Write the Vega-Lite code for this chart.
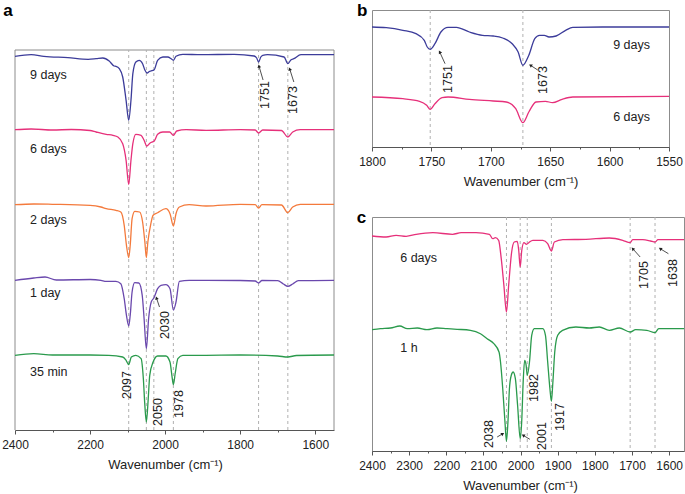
{
  "$schema": "https://vega.github.io/schema/vega-lite/v6.json",
  "background": "white",
  "padding": {"left": 1, "top": 1, "right": 0, "bottom": 0},
  "config": {
    "font": "Liberation Sans",
    "view": {"stroke": "#8c8c8c", "strokeWidth": 1},
    "axis": {"domainColor": "#555", "tickColor": "#555", "labelColor": "#222", "titleColor": "#222", "labelFontSize": 12, "titleFontSize": 13, "titleFontWeight": "normal", "labelFont": "Liberation Sans", "titleFont": "Liberation Sans", "labelPadding": 5, "titlePadding": 8, "grid": false, "labelFlush": false, "format": "d"},
    "title": {"font": "Liberation Sans", "fontSize": 17, "fontWeight": "bold", "color": "#000"}
  },
  "datasets": {
    "aFrame": [{"w": 2400, "w2": 2400, "v": -1, "v2": 379}, {"w": 1550, "w2": 1550, "v": -1, "v2": 379}, {"w": 2400, "w2": 1550, "v": 379, "v2": 379}],
    "aDash": [{"w": 2097}, {"w": 2050}, {"w": 2030}, {"w": 1978}, {"w": 1751}, {"w": 1673}],
    "aCurves": [
      {"s": "9 days", "w": 2400, "v": 372.7}, {"s": "9 days", "w": 2357, "v": 374.3}, {"s": "9 days", "w": 2323, "v": 372.7}, {"s": "9 days", "w": 2259, "v": 371.3}, {"s": "9 days", "w": 2205, "v": 369.7}, {"s": "9 days", "w": 2184, "v": 370.3}, {"s": "9 days", "w": 2166, "v": 371}, {"s": "9 days", "w": 2149, "v": 368}, {"s": "9 days", "w": 2136, "v": 363}, {"s": "9 days", "w": 2131, "v": 362.7}, {"s": "9 days", "w": 2122, "v": 360.3}, {"s": "9 days", "w": 2113, "v": 352}, {"s": "9 days", "w": 2104, "v": 328.7}, {"s": "9 days", "w": 2097, "v": 308.7}, {"s": "9 days", "w": 2091, "v": 328.7}, {"s": "9 days", "w": 2086, "v": 355.3}, {"s": "9 days", "w": 2078, "v": 367}, {"s": "9 days", "w": 2069, "v": 368.7}, {"s": "9 days", "w": 2060, "v": 365.3}, {"s": "9 days", "w": 2054, "v": 359}, {"s": "9 days", "w": 2048, "v": 356}, {"s": "9 days", "w": 2042, "v": 357.5}, {"s": "9 days", "w": 2038, "v": 358}, {"s": "9 days", "w": 2029, "v": 359.3}, {"s": "9 days", "w": 2020, "v": 368.7}, {"s": "9 days", "w": 2006, "v": 372}, {"s": "9 days", "w": 1993, "v": 372}, {"s": "9 days", "w": 1984, "v": 370.3}, {"s": "9 days", "w": 1978, "v": 368.7}, {"s": "9 days", "w": 1971, "v": 372.7}, {"s": "9 days", "w": 1953, "v": 374.7}, {"s": "9 days", "w": 1904, "v": 374.3}, {"s": "9 days", "w": 1816, "v": 374.7}, {"s": "9 days", "w": 1763, "v": 373}, {"s": "9 days", "w": 1756, "v": 371}, {"s": "9 days", "w": 1751, "v": 367}, {"s": "9 days", "w": 1745, "v": 372}, {"s": "9 days", "w": 1740, "v": 373.7}, {"s": "9 days", "w": 1727, "v": 374.3}, {"s": "9 days", "w": 1683, "v": 372}, {"s": "9 days", "w": 1673, "v": 365.3}, {"s": "9 days", "w": 1665, "v": 369}, {"s": "9 days", "w": 1657, "v": 370.3}, {"s": "9 days", "w": 1638, "v": 374.3}, {"s": "9 days", "w": 1550, "v": 374.3},
      {"s": "6 days", "w": 2400, "v": 299.3}, {"s": "6 days", "w": 2357, "v": 300}, {"s": "6 days", "w": 2300, "v": 299}, {"s": "6 days", "w": 2250, "v": 299.5}, {"s": "6 days", "w": 2200, "v": 298.5}, {"s": "6 days", "w": 2184, "v": 297}, {"s": "6 days", "w": 2157, "v": 294.7}, {"s": "6 days", "w": 2139, "v": 293.7}, {"s": "6 days", "w": 2126, "v": 292}, {"s": "6 days", "w": 2113, "v": 285.3}, {"s": "6 days", "w": 2104, "v": 268.7}, {"s": "6 days", "w": 2097, "v": 244.5}, {"s": "6 days", "w": 2091, "v": 268.7}, {"s": "6 days", "w": 2086, "v": 285.3}, {"s": "6 days", "w": 2078, "v": 294.7}, {"s": "6 days", "w": 2064, "v": 293.7}, {"s": "6 days", "w": 2056, "v": 288.7}, {"s": "6 days", "w": 2049, "v": 283}, {"s": "6 days", "w": 2040, "v": 286}, {"s": "6 days", "w": 2029, "v": 288}, {"s": "6 days", "w": 2020, "v": 294.7}, {"s": "6 days", "w": 2006, "v": 297}, {"s": "6 days", "w": 1988, "v": 297}, {"s": "6 days", "w": 1978, "v": 293.7}, {"s": "6 days", "w": 1969, "v": 298}, {"s": "6 days", "w": 1944, "v": 299.3}, {"s": "6 days", "w": 1891, "v": 298.7}, {"s": "6 days", "w": 1800, "v": 299.3}, {"s": "6 days", "w": 1760, "v": 299}, {"s": "6 days", "w": 1751, "v": 296}, {"s": "6 days", "w": 1740, "v": 299}, {"s": "6 days", "w": 1690, "v": 298.5}, {"s": "6 days", "w": 1673, "v": 292}, {"s": "6 days", "w": 1660, "v": 297}, {"s": "6 days", "w": 1640, "v": 299.3}, {"s": "6 days", "w": 1550, "v": 299.3},
      {"s": "2 days", "w": 2400, "v": 224.3}, {"s": "2 days", "w": 2350, "v": 225}, {"s": "2 days", "w": 2300, "v": 224.7}, {"s": "2 days", "w": 2200, "v": 223.7}, {"s": "2 days", "w": 2171, "v": 222}, {"s": "2 days", "w": 2157, "v": 220.3}, {"s": "2 days", "w": 2131, "v": 218.7}, {"s": "2 days", "w": 2118, "v": 217}, {"s": "2 days", "w": 2109, "v": 203.7}, {"s": "2 days", "w": 2103, "v": 183.7}, {"s": "2 days", "w": 2097, "v": 171.5}, {"s": "2 days", "w": 2093, "v": 183.7}, {"s": "2 days", "w": 2088, "v": 210.3}, {"s": "2 days", "w": 2081, "v": 217.7}, {"s": "2 days", "w": 2068, "v": 217}, {"s": "2 days", "w": 2060, "v": 207}, {"s": "2 days", "w": 2054, "v": 187}, {"s": "2 days", "w": 2050, "v": 171.5}, {"s": "2 days", "w": 2046, "v": 187}, {"s": "2 days", "w": 2038, "v": 205.3}, {"s": "2 days", "w": 2032, "v": 213.7}, {"s": "2 days", "w": 2020, "v": 216.3}, {"s": "2 days", "w": 1998, "v": 220.3}, {"s": "2 days", "w": 1987, "v": 215.3}, {"s": "2 days", "w": 1978, "v": 203}, {"s": "2 days", "w": 1971, "v": 215.3}, {"s": "2 days", "w": 1962, "v": 222}, {"s": "2 days", "w": 1936, "v": 224.3}, {"s": "2 days", "w": 1891, "v": 223}, {"s": "2 days", "w": 1800, "v": 224.7}, {"s": "2 days", "w": 1760, "v": 224.3}, {"s": "2 days", "w": 1751, "v": 221}, {"s": "2 days", "w": 1742, "v": 224.3}, {"s": "2 days", "w": 1690, "v": 224}, {"s": "2 days", "w": 1673, "v": 216.3}, {"s": "2 days", "w": 1660, "v": 222}, {"s": "2 days", "w": 1640, "v": 224.7}, {"s": "2 days", "w": 1550, "v": 224.7},
      {"s": "1 day", "w": 2400, "v": 148.7}, {"s": "1 day", "w": 2350, "v": 151}, {"s": "1 day", "w": 2320, "v": 152}, {"s": "1 day", "w": 2290, "v": 149}, {"s": "1 day", "w": 2200, "v": 149.5}, {"s": "1 day", "w": 2171, "v": 148.7}, {"s": "1 day", "w": 2157, "v": 147.7}, {"s": "1 day", "w": 2131, "v": 147.7}, {"s": "1 day", "w": 2118, "v": 145.3}, {"s": "1 day", "w": 2109, "v": 130.3}, {"s": "1 day", "w": 2103, "v": 113.7}, {"s": "1 day", "w": 2097, "v": 103}, {"s": "1 day", "w": 2093, "v": 113.7}, {"s": "1 day", "w": 2088, "v": 137}, {"s": "1 day", "w": 2081, "v": 146.3}, {"s": "1 day", "w": 2070, "v": 146}, {"s": "1 day", "w": 2061, "v": 133.7}, {"s": "1 day", "w": 2056, "v": 110.3}, {"s": "1 day", "w": 2050, "v": 80.3}, {"s": "1 day", "w": 2044, "v": 110.3}, {"s": "1 day", "w": 2037, "v": 127}, {"s": "1 day", "w": 2030, "v": 131}, {"s": "1 day", "w": 2020, "v": 140.3}, {"s": "1 day", "w": 2011, "v": 143.7}, {"s": "1 day", "w": 1998, "v": 144.3}, {"s": "1 day", "w": 1987, "v": 140.3}, {"s": "1 day", "w": 1978, "v": 119}, {"s": "1 day", "w": 1971, "v": 127}, {"s": "1 day", "w": 1962, "v": 147.7}, {"s": "1 day", "w": 1936, "v": 148.7}, {"s": "1 day", "w": 1891, "v": 148.7}, {"s": "1 day", "w": 1800, "v": 148.5}, {"s": "1 day", "w": 1760, "v": 148}, {"s": "1 day", "w": 1751, "v": 146}, {"s": "1 day", "w": 1742, "v": 148.5}, {"s": "1 day", "w": 1700, "v": 148.3}, {"s": "1 day", "w": 1685, "v": 145}, {"s": "1 day", "w": 1673, "v": 142.7}, {"s": "1 day", "w": 1660, "v": 145}, {"s": "1 day", "w": 1645, "v": 148.3}, {"s": "1 day", "w": 1550, "v": 148.7},
      {"s": "35 min", "w": 2400, "v": 73.7}, {"s": "35 min", "w": 2350, "v": 75.3}, {"s": "35 min", "w": 2300, "v": 74}, {"s": "35 min", "w": 2200, "v": 74}, {"s": "35 min", "w": 2150, "v": 73.7}, {"s": "35 min", "w": 2113, "v": 72}, {"s": "35 min", "w": 2104, "v": 68.7}, {"s": "35 min", "w": 2097, "v": 64.5}, {"s": "35 min", "w": 2090, "v": 72}, {"s": "35 min", "w": 2078, "v": 73.7}, {"s": "35 min", "w": 2064, "v": 70.3}, {"s": "35 min", "w": 2058, "v": 50.3}, {"s": "35 min", "w": 2054, "v": 23.7}, {"s": "35 min", "w": 2050, "v": 7}, {"s": "35 min", "w": 2045, "v": 30.3}, {"s": "35 min", "w": 2041, "v": 53.7}, {"s": "35 min", "w": 2032, "v": 67}, {"s": "35 min", "w": 2020, "v": 73}, {"s": "35 min", "w": 1998, "v": 73}, {"s": "35 min", "w": 1987, "v": 67}, {"s": "35 min", "w": 1982, "v": 53.7}, {"s": "35 min", "w": 1978, "v": 44.3}, {"s": "35 min", "w": 1973, "v": 56}, {"s": "35 min", "w": 1966, "v": 70.3}, {"s": "35 min", "w": 1953, "v": 73.7}, {"s": "35 min", "w": 1891, "v": 73.7}, {"s": "35 min", "w": 1800, "v": 74}, {"s": "35 min", "w": 1700, "v": 73}, {"s": "35 min", "w": 1673, "v": 72}, {"s": "35 min", "w": 1650, "v": 73.5}, {"s": "35 min", "w": 1550, "v": 74}
    ],
    "aNames": [{"t": "9 days", "w": 2360, "v": 354}, {"t": "6 days", "w": 2360, "v": 280}, {"t": "2 days", "w": 2360, "v": 209}, {"t": "1 day", "w": 2360, "v": 136}, {"t": "35 min", "w": 2360, "v": 57}],
    "aNums": [{"t": "1751", "w": 1734, "v": 334}, {"t": "1673", "w": 1658, "v": 329}, {"t": "2030", "w": 2000, "v": 104}, {"t": "2097", "w": 2102, "v": 44}, {"t": "2050", "w": 2019, "v": 17}, {"t": "1978", "w": 1964, "v": 25}],
    "aArrows": [{"w": 1739, "v": 349, "w2": 1750, "v2": 363, "ang": -13}, {"w": 1657, "v": 347, "w2": 1668, "v2": 360, "ang": -17}, {"w": 2015, "v": 122, "w2": 2023, "v2": 131, "ang": -18}],
    "bDash": [{"w": 1751}, {"w": 1673}],
    "bCurves": [
      {"s": "9 days", "w": 1800, "v": 120}, {"s": "9 days", "w": 1788, "v": 119.3}, {"s": "9 days", "w": 1774, "v": 116.7}, {"s": "9 days", "w": 1763, "v": 113.3}, {"s": "9 days", "w": 1756, "v": 106.7}, {"s": "9 days", "w": 1753.5, "v": 100}, {"s": "9 days", "w": 1751, "v": 97.7}, {"s": "9 days", "w": 1747, "v": 103.3}, {"s": "9 days", "w": 1742, "v": 115}, {"s": "9 days", "w": 1736, "v": 119.7}, {"s": "9 days", "w": 1729, "v": 119.7}, {"s": "9 days", "w": 1718, "v": 115}, {"s": "9 days", "w": 1707, "v": 111.7}, {"s": "9 days", "w": 1698, "v": 111}, {"s": "9 days", "w": 1690, "v": 109}, {"s": "9 days", "w": 1682, "v": 103.3}, {"s": "9 days", "w": 1677, "v": 95}, {"s": "9 days", "w": 1673, "v": 81.7}, {"s": "9 days", "w": 1668, "v": 91.7}, {"s": "9 days", "w": 1663, "v": 108.3}, {"s": "9 days", "w": 1659, "v": 111.7}, {"s": "9 days", "w": 1655, "v": 111.7}, {"s": "9 days", "w": 1651, "v": 110}, {"s": "9 days", "w": 1645, "v": 111}, {"s": "9 days", "w": 1637, "v": 116.7}, {"s": "9 days", "w": 1631, "v": 119.7}, {"s": "9 days", "w": 1606, "v": 120}, {"s": "9 days", "w": 1550, "v": 120},
      {"s": "6 days", "w": 1800, "v": 50}, {"s": "6 days", "w": 1774, "v": 48.3}, {"s": "6 days", "w": 1760, "v": 45.7}, {"s": "6 days", "w": 1754, "v": 41.7}, {"s": "6 days", "w": 1751, "v": 37.7}, {"s": "6 days", "w": 1747, "v": 43.3}, {"s": "6 days", "w": 1741, "v": 49.3}, {"s": "6 days", "w": 1736, "v": 50}, {"s": "6 days", "w": 1718, "v": 47.7}, {"s": "6 days", "w": 1698, "v": 46}, {"s": "6 days", "w": 1687, "v": 45}, {"s": "6 days", "w": 1679, "v": 38.3}, {"s": "6 days", "w": 1673, "v": 24.3}, {"s": "6 days", "w": 1668, "v": 35}, {"s": "6 days", "w": 1662, "v": 45}, {"s": "6 days", "w": 1654, "v": 45.7}, {"s": "6 days", "w": 1648, "v": 44.3}, {"s": "6 days", "w": 1640, "v": 47.7}, {"s": "6 days", "w": 1631, "v": 50}, {"s": "6 days", "w": 1550, "v": 50.7}
    ],
    "bNames": [{"t": "9 days", "w": 1597, "v": 102}, {"t": "6 days", "w": 1597, "v": 30}],
    "bNums": [{"t": "1751", "w": 1736, "v": 68}, {"t": "1673", "w": 1656, "v": 67}],
    "bArrows": [{"w": 1738.5, "v": 83.3, "w2": 1743, "v2": 95, "ang": -30}, {"w": 1660.5, "v": 77, "w2": 1666.6, "v2": 81.7, "ang": -57}],
    "cDash": [{"w": 2038}, {"w": 2001}, {"w": 1982}, {"w": 1917}, {"w": 1705}, {"w": 1638}],
    "cCurves": [
      {"s": "6 days", "w": 2400, "v": 214}, {"s": "6 days", "w": 2362, "v": 213}, {"s": "6 days", "w": 2335, "v": 214.7}, {"s": "6 days", "w": 2308, "v": 213.7}, {"s": "6 days", "w": 2281, "v": 215.7}, {"s": "6 days", "w": 2236, "v": 217.3}, {"s": "6 days", "w": 2183, "v": 215.7}, {"s": "6 days", "w": 2160, "v": 217.3}, {"s": "6 days", "w": 2120, "v": 217.3}, {"s": "6 days", "w": 2084, "v": 215.7}, {"s": "6 days", "w": 2075, "v": 211.3}, {"s": "6 days", "w": 2068, "v": 212.3}, {"s": "6 days", "w": 2059, "v": 209.7}, {"s": "6 days", "w": 2052, "v": 191.3}, {"s": "6 days", "w": 2045, "v": 165}, {"s": "6 days", "w": 2038, "v": 138}, {"s": "6 days", "w": 2032, "v": 165}, {"s": "6 days", "w": 2024, "v": 198}, {"s": "6 days", "w": 2017, "v": 208}, {"s": "6 days", "w": 2009, "v": 208.7}, {"s": "6 days", "w": 2005, "v": 199.7}, {"s": "6 days", "w": 2001, "v": 183}, {"s": "6 days", "w": 1997, "v": 199}, {"s": "6 days", "w": 1991, "v": 207.3}, {"s": "6 days", "w": 1984, "v": 205.7}, {"s": "6 days", "w": 1978, "v": 207.3}, {"s": "6 days", "w": 1967, "v": 209.7}, {"s": "6 days", "w": 1940, "v": 209.7}, {"s": "6 days", "w": 1927, "v": 206.3}, {"s": "6 days", "w": 1917, "v": 199}, {"s": "6 days", "w": 1909, "v": 208}, {"s": "6 days", "w": 1886, "v": 210.3}, {"s": "6 days", "w": 1824, "v": 210.7}, {"s": "6 days", "w": 1761, "v": 212}, {"s": "6 days", "w": 1725, "v": 209.7}, {"s": "6 days", "w": 1705, "v": 207.3}, {"s": "6 days", "w": 1698, "v": 210.3}, {"s": "6 days", "w": 1671, "v": 210.3}, {"s": "6 days", "w": 1650, "v": 209}, {"s": "6 days", "w": 1638, "v": 208}, {"s": "6 days", "w": 1630, "v": 210.3}, {"s": "6 days", "w": 1560, "v": 210.3},
      {"s": "1 h", "w": 2400, "v": 120.3}, {"s": "1 h", "w": 2377, "v": 121.3}, {"s": "1 h", "w": 2350, "v": 122}, {"s": "1 h", "w": 2325, "v": 124}, {"s": "1 h", "w": 2305, "v": 121.3}, {"s": "1 h", "w": 2278, "v": 122}, {"s": "1 h", "w": 2252, "v": 120.3}, {"s": "1 h", "w": 2225, "v": 122}, {"s": "1 h", "w": 2198, "v": 121.3}, {"s": "1 h", "w": 2171, "v": 120.7}, {"s": "1 h", "w": 2135, "v": 119.7}, {"s": "1 h", "w": 2108, "v": 116.3}, {"s": "1 h", "w": 2090, "v": 111.3}, {"s": "1 h", "w": 2072, "v": 106.3}, {"s": "1 h", "w": 2058, "v": 98}, {"s": "1 h", "w": 2054, "v": 88}, {"s": "1 h", "w": 2048, "v": 61.3}, {"s": "1 h", "w": 2042, "v": 28}, {"s": "1 h", "w": 2038, "v": 8.7}, {"s": "1 h", "w": 2034, "v": 28}, {"s": "1 h", "w": 2030, "v": 61.3}, {"s": "1 h", "w": 2025, "v": 74.7}, {"s": "1 h", "w": 2020, "v": 78}, {"s": "1 h", "w": 2014, "v": 71.3}, {"s": "1 h", "w": 2008, "v": 44.7}, {"s": "1 h", "w": 2001, "v": 11.3}, {"s": "1 h", "w": 1997, "v": 28}, {"s": "1 h", "w": 1993, "v": 68}, {"s": "1 h", "w": 1989, "v": 89.7}, {"s": "1 h", "w": 1985, "v": 84.7}, {"s": "1 h", "w": 1982, "v": 74.7}, {"s": "1 h", "w": 1976, "v": 88}, {"s": "1 h", "w": 1970, "v": 114.7}, {"s": "1 h", "w": 1963, "v": 121.3}, {"s": "1 h", "w": 1940, "v": 121.3}, {"s": "1 h", "w": 1933, "v": 114.7}, {"s": "1 h", "w": 1927, "v": 88}, {"s": "1 h", "w": 1921, "v": 61.3}, {"s": "1 h", "w": 1917, "v": 48.7}, {"s": "1 h", "w": 1913, "v": 68}, {"s": "1 h", "w": 1908, "v": 98}, {"s": "1 h", "w": 1900, "v": 114.7}, {"s": "1 h", "w": 1887, "v": 119.7}, {"s": "1 h", "w": 1851, "v": 123}, {"s": "1 h", "w": 1815, "v": 122}, {"s": "1 h", "w": 1788, "v": 123}, {"s": "1 h", "w": 1761, "v": 119.7}, {"s": "1 h", "w": 1734, "v": 122}, {"s": "1 h", "w": 1705, "v": 118}, {"s": "1 h", "w": 1690, "v": 120.3}, {"s": "1 h", "w": 1660, "v": 119.7}, {"s": "1 h", "w": 1638, "v": 117.3}, {"s": "1 h", "w": 1628, "v": 121.3}, {"s": "1 h", "w": 1560, "v": 121.3}
    ],
    "cNames": [{"t": "6 days", "w": 2324, "v": 192}, {"t": "1 h", "w": 2324, "v": 102}],
    "cNums": [{"t": "2038", "w": 2085, "v": 16}, {"t": "2001", "w": 1942, "v": 14}, {"t": "1982", "w": 1963, "v": 62}, {"t": "1917", "w": 1893, "v": 33}, {"t": "1705", "w": 1669, "v": 175}, {"t": "1638", "w": 1589, "v": 177}],
    "cArrows": [{"w": 2063, "v": 13, "w2": 2048, "v2": 16.3, "ang": 60}, {"w": 1975, "v": 10.7, "w2": 1993, "v2": 14.7, "ang": -59}, {"w": 1678, "v": 193, "w2": 1698, "v2": 201.3, "ang": -42}, {"w": 1602, "v": 196.3, "w2": 1624, "v2": 201.3, "ang": -59}]
  },
  "resolve": {"scale": {"x": "independent", "y": "independent", "color": "independent"}},
  "spacing": 19,
  "hconcat": [
    {
      "width": 319, "height": 420,
      "view": {"stroke": null},
      "title": {"text": "a", "orient": "left", "anchor": "end", "angle": 0, "align": "right", "baseline": "alphabetic", "dy": 6, "offset": -20.5, "frame": "group"},
      "encoding": {"x": {"field": "w", "type": "quantitative", "scale": {"domain": [2400, 1550], "nice": false, "zero": false},
        "axis": {"title": "Wavenumber (cm⁻¹)", "titleX": 150, "values": [2400, 2300, 2200, 2100, 2000, 1900, 1800, 1700, 1600], "labelExpr": "datum.value % 200 === 0 ? datum.label : ''", "tickSize": {"condition": {"test": "datum.value % 200 === 0", "value": 4}, "value": 2}}}},
      "layer": [
        {"data": {"name": "aFrame"}, "mark": {"type": "rule", "color": "#8c8c8c", "strokeWidth": 1},
          "encoding": {"x2": {"field": "w2"}, "y": {"field": "v", "type": "quantitative", "scale": {"domain": [-1, 419], "nice": false, "zero": false}, "axis": null}, "y2": {"field": "v2"}}},
        {"data": {"name": "aDash"}, "mark": {"type": "rule", "strokeDash": [3, 3], "color": "#b0b0b0", "strokeWidth": 1},
          "encoding": {"y": {"datum": -1, "type": "quantitative", "scale": {"domain": [-1, 419], "nice": false, "zero": false}, "axis": null}, "y2": {"datum": 379}}},
        {"data": {"name": "aCurves"}, "mark": {"type": "line", "interpolate": "monotone", "strokeWidth": 1.3},
          "encoding": {"y": {"field": "v", "type": "quantitative", "scale": {"domain": [-1, 419], "nice": false, "zero": false}, "axis": null},
            "color": {"field": "s", "type": "nominal", "legend": null, "scale": {"domain": ["9 days", "6 days", "2 days", "1 day", "35 min"], "range": ["#3c3c9a", "#e6307a", "#f47a3c", "#6a48ad", "#2a9a4c"]}}}},
        {"data": {"name": "aNames"}, "mark": {"type": "text", "align": "left", "baseline": "middle", "fontSize": 12.5, "color": "#222"},
          "encoding": {"y": {"field": "v", "type": "quantitative", "scale": {"domain": [-1, 419], "nice": false, "zero": false}, "axis": null}, "text": {"field": "t"}}},
        {"data": {"name": "aNums"}, "mark": {"type": "text", "angle": 270, "align": "center", "baseline": "middle", "fontSize": 12.5, "color": "#222"},
          "encoding": {"y": {"field": "v", "type": "quantitative", "scale": {"domain": [-1, 419], "nice": false, "zero": false}, "axis": null}, "text": {"field": "t"}}},
        {"data": {"name": "aArrows"}, "mark": {"type": "rule", "color": "#222", "strokeWidth": 0.8},
          "encoding": {"y": {"field": "v", "type": "quantitative", "scale": {"domain": [-1, 419], "nice": false, "zero": false}, "axis": null}, "x2": {"field": "w2"}, "y2": {"field": "v2"}}},
        {"data": {"name": "aArrows"}, "mark": {"type": "point", "shape": "triangle-up", "filled": true, "size": 14, "color": "#222", "opacity": 1},
          "encoding": {"x": {"field": "w2", "type": "quantitative"}, "y": {"field": "v2", "type": "quantitative", "scale": {"domain": [-1, 419], "nice": false, "zero": false}, "axis": null}, "angle": {"field": "ang", "type": "quantitative", "scale": null}}}
      ]
    },
    {
      "spacing": 70,
      "bounds": "flush",
      "resolve": {"scale": {"x": "independent", "y": "independent", "color": "independent"}},
      "vconcat": [
        {
          "width": 297, "height": 137,
          "title": {"text": "b", "orient": "left", "anchor": "end", "angle": 0, "align": "right", "baseline": "alphabetic", "dy": 6, "offset": -19, "frame": "group"},
          "encoding": {"x": {"field": "w", "type": "quantitative", "scale": {"domain": [1800, 1550], "nice": false, "zero": false},
            "axis": {"title": "Wavenumber (cm⁻¹)", "values": [1800, 1775, 1750, 1725, 1700, 1675, 1650, 1625, 1600, 1575, 1550], "labelExpr": "datum.value % 50 === 0 ? datum.label : ''", "tickSize": {"condition": {"test": "datum.value % 50 === 0", "value": 4}, "value": 2}}}},
          "layer": [
            {"data": {"name": "bDash"}, "mark": {"type": "rule", "strokeDash": [3, 3], "color": "#b0b0b0", "strokeWidth": 1}, "encoding": {}},
            {"data": {"name": "bCurves"}, "mark": {"type": "line", "interpolate": "monotone", "strokeWidth": 1.3},
              "encoding": {"y": {"field": "v", "type": "quantitative", "scale": {"domain": [0, 137], "nice": false, "zero": false}, "axis": null},
                "color": {"field": "s", "type": "nominal", "legend": null, "scale": {"domain": ["9 days", "6 days"], "range": ["#3c3c9a", "#e6307a"]}}}},
            {"data": {"name": "bNames"}, "mark": {"type": "text", "align": "left", "baseline": "middle", "fontSize": 12.5, "color": "#222"},
              "encoding": {"y": {"field": "v", "type": "quantitative", "scale": {"domain": [0, 137], "nice": false, "zero": false}, "axis": null}, "text": {"field": "t"}}},
            {"data": {"name": "bNums"}, "mark": {"type": "text", "angle": 270, "align": "center", "baseline": "middle", "fontSize": 12.5, "color": "#222"},
              "encoding": {"y": {"field": "v", "type": "quantitative", "scale": {"domain": [0, 137], "nice": false, "zero": false}, "axis": null}, "text": {"field": "t"}}},
            {"data": {"name": "bArrows"}, "mark": {"type": "rule", "color": "#222", "strokeWidth": 0.8},
              "encoding": {"y": {"field": "v", "type": "quantitative", "scale": {"domain": [0, 137], "nice": false, "zero": false}, "axis": null}, "x2": {"field": "w2"}, "y2": {"field": "v2"}}},
            {"data": {"name": "bArrows"}, "mark": {"type": "point", "shape": "triangle-up", "filled": true, "size": 14, "color": "#222", "opacity": 1},
              "encoding": {"x": {"field": "w2", "type": "quantitative"}, "y": {"field": "v2", "type": "quantitative", "scale": {"domain": [0, 137], "nice": false, "zero": false}, "axis": null}, "angle": {"field": "ang", "type": "quantitative", "scale": null}}}
          ]
        },
        {
          "width": 312, "height": 234,
          "title": {"text": "c", "orient": "left", "anchor": "end", "angle": 0, "align": "right", "baseline": "alphabetic", "dy": 6, "offset": -17, "frame": "group"},
          "encoding": {"x": {"field": "w", "type": "quantitative", "scale": {"domain": [2400, 1560], "nice": false, "zero": false},
            "axis": {"title": "Wavenumber (cm⁻¹)", "titleX": 148, "values": [2400, 2350, 2300, 2250, 2200, 2150, 2100, 2050, 2000, 1950, 1900, 1850, 1800, 1750, 1700, 1650, 1600], "labelExpr": "datum.value % 100 === 0 ? datum.label : ''", "tickSize": {"condition": {"test": "datum.value % 100 === 0", "value": 4}, "value": 2}}}},
          "layer": [
            {"data": {"name": "cDash"}, "mark": {"type": "rule", "strokeDash": [3, 3], "color": "#b0b0b0", "strokeWidth": 1}, "encoding": {}},
            {"data": {"name": "cCurves"}, "mark": {"type": "line", "interpolate": "monotone", "strokeWidth": 1.3},
              "encoding": {"y": {"field": "v", "type": "quantitative", "scale": {"domain": [-1, 233], "nice": false, "zero": false}, "axis": null},
                "color": {"field": "s", "type": "nominal", "legend": null, "scale": {"domain": ["6 days", "1 h"], "range": ["#e6307a", "#2a9a4c"]}}}},
            {"data": {"name": "cNames"}, "mark": {"type": "text", "align": "left", "baseline": "middle", "fontSize": 12.5, "color": "#222"},
              "encoding": {"y": {"field": "v", "type": "quantitative", "scale": {"domain": [-1, 233], "nice": false, "zero": false}, "axis": null}, "text": {"field": "t"}}},
            {"data": {"name": "cNums"}, "mark": {"type": "text", "angle": 270, "align": "center", "baseline": "middle", "fontSize": 12.5, "color": "#222"},
              "encoding": {"y": {"field": "v", "type": "quantitative", "scale": {"domain": [-1, 233], "nice": false, "zero": false}, "axis": null}, "text": {"field": "t"}}},
            {"data": {"name": "cArrows"}, "mark": {"type": "rule", "color": "#222", "strokeWidth": 0.8},
              "encoding": {"y": {"field": "v", "type": "quantitative", "scale": {"domain": [-1, 233], "nice": false, "zero": false}, "axis": null}, "x2": {"field": "w2"}, "y2": {"field": "v2"}}},
            {"data": {"name": "cArrows"}, "mark": {"type": "point", "shape": "triangle-up", "filled": true, "size": 14, "color": "#222", "opacity": 1},
              "encoding": {"x": {"field": "w2", "type": "quantitative"}, "y": {"field": "v2", "type": "quantitative", "scale": {"domain": [-1, 233], "nice": false, "zero": false}, "axis": null}, "angle": {"field": "ang", "type": "quantitative", "scale": null}}}
          ]
        }
      ]
    }
  ]
}
